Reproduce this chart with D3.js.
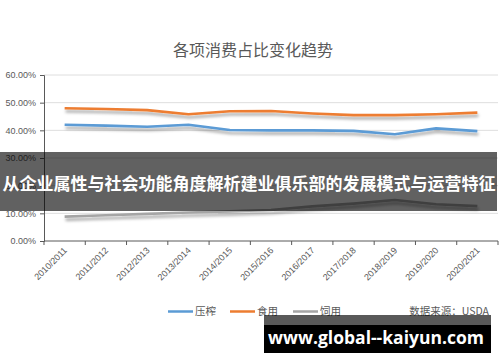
<!DOCTYPE html>
<html>
<head>
<meta charset="utf-8">
<script src="https://cdn.jsdelivr.net/npm/d3@7"></script>
<style>
  body { margin: 0; background: #fff; }
  svg { display: block; font-family: "Noto Sans CJK SC", "Noto Sans", sans-serif; }
</style>
</head>
<body>
<svg id="chart" width="500" height="362"></svg>
<script>
// data
const years = ['2010/2011', '2011/2012', '2012/2013', '2013/2014', '2014/2015', '2015/2016',
               '2016/2017', '2017/2018', '2018/2019', '2019/2020', '2020/2021'];
const crush = [42.0, 41.7, 41.3, 42.0, 40.1, 40.0, 40.0, 39.8, 38.6, 40.7, 39.7];
const food  = [48.0, 47.7, 47.3, 45.8, 46.9, 47.0, 46.1, 45.5, 45.5, 45.8, 46.4];
const feed  = [8.8, 9.3, 9.8, 10.3, 10.7, 11.2, 12.5, 13.5, 14.8, 13.3, 12.6];
const yTicks = [0, 10, 20, 30, 40, 50, 60];
const seriesNames = ['压榨', '食用', '饲用'];
const seriesColors = ['#5b9bd5', '#ed7d31', '#a5a5a5'];

const svg = d3.select('#chart');
const plotL = 44, plotR = 498, plotT = 75, plotB = 241;

const x = d3.scaleBand().domain(years).range([plotL, plotR]);
const y = d3.scaleLinear().domain([0, 60]).range([plotB, plotT]);

// shadow under the lines
const defs = svg.append('defs');
const f = defs.append('filter').attr('id', 'shadow').attr('x', '-10%').attr('y', '-50%').attr('width', '120%').attr('height', '300%');
f.append('feDropShadow').attr('dx', 1).attr('dy', 3).attr('stdDeviation', 1.5)
  .attr('flood-color', '#000').attr('flood-opacity', 0.35);

// title
svg.append('text').attr('x', 253).attr('y', 56).attr('text-anchor', 'middle')
  .style('font-size', '16px').style('fill', '#595959').text('各项消费占比变化趋势');

// grid
svg.append('g').selectAll('line').data(yTicks.filter(d => d > 0)).enter().append('line')
  .attr('x1', plotL).attr('x2', plotR)
  .attr('y1', d => y(d)).attr('y2', d => y(d))
  .attr('stroke', '#dedede').attr('stroke-width', 1);

// y axis
const yAxis = svg.append('g').attr('transform', `translate(${plotL},0)`)
  .call(d3.axisLeft(y).tickValues(yTicks).tickSize(4).tickFormat(d => d.toFixed(2) + '%'));
yAxis.select('.domain').attr('stroke', '#595959');
yAxis.selectAll('line').attr('stroke', '#595959');
yAxis.selectAll('text').style('font-size', '9px').style('fill', '#595959')
  .style('font-family', '"Liberation Sans", Arial, sans-serif').attr('x', -8);

// x axis with ticks between categories
const xAxis = svg.append('g').attr('transform', `translate(0,${plotB})`);
xAxis.append('line').attr('x1', plotL).attr('x2', plotR).attr('stroke', '#595959');
xAxis.selectAll('.tk').data(years.concat(['end'])).enter().append('line')
  .attr('class', 'tk')
  .attr('x1', (d, i) => plotL + i * x.bandwidth()).attr('x2', (d, i) => plotL + i * x.bandwidth())
  .attr('y1', 0).attr('y2', 4).attr('stroke', '#595959');
xAxis.selectAll('.lb').data(years).enter().append('text')
  .attr('class', 'lb')
  .attr('transform', d => `translate(${x(d) + x.bandwidth() / 2 + 3},${10}) rotate(-45)`)
  .attr('text-anchor', 'end')
  .style('font-size', '9px').style('fill', '#595959')
  .style('font-family', '"Liberation Sans", Arial, sans-serif')
  .text(d => d);

// lines
const line = d3.line().x((d, i) => x(years[i]) + x.bandwidth() / 2).y(d => y(d));
[crush, food, feed].forEach((s, k) => {
  svg.append('path').datum(s).attr('d', line)
    .attr('fill', 'none').attr('stroke', seriesColors[k]).attr('stroke-width', 2.6)
    .attr('stroke-linejoin', 'round').attr('filter', 'url(#shadow)');
});

// legend
const legendX = [168, 230, 293];
const lg = svg.append('g');
seriesNames.forEach((n, i) => {
  lg.append('line').attr('x1', legendX[i]).attr('x2', legendX[i] + 25)
    .attr('y1', 311.5).attr('y2', 311.5).attr('stroke', seriesColors[i]).attr('stroke-width', 2.5);
  lg.append('text').attr('x', legendX[i] + 27).attr('y', 315)
    .style('font-size', '10.5px').style('fill', '#595959').text(n);
});
svg.append('text').attr('x', 489).attr('y', 315).attr('text-anchor', 'end')
  .style('font-size', '10.5px').style('fill', '#595959').text('数据来源：USDA');

// overlay banner
svg.append('rect').attr('x', 0).attr('y', 152).attr('width', 497).attr('height', 59)
  .attr('fill', '#000').attr('fill-opacity', 0.62);
svg.append('text').attr('x', 249).attr('y', 190).attr('text-anchor', 'middle')
  .style('font-size', '17px').style('font-weight', 'bold').style('fill', '#fff')
  .text('从企业属性与社会功能角度解析建业俱乐部的发展模式与运营特征');

// bottom url box
svg.append('rect').attr('x', 264).attr('y', 315).attr('width', 227).attr('height', 10)
  .attr('fill', '#000').attr('fill-opacity', 0.65);
svg.append('rect').attr('x', 264).attr('y', 325).attr('width', 227).attr('height', 28)
  .attr('fill', '#000');
svg.append('text').attr('x', 376).attr('y', 344).attr('text-anchor', 'middle')
  .style('font-size', '17.5px').style('font-weight', 'bold').style('fill', '#fff')
  .style('font-family', '"Open Sans", "DejaVu Sans", sans-serif')
  .text('www.global--kaiyun.com');
</script>
</body>
</html>
